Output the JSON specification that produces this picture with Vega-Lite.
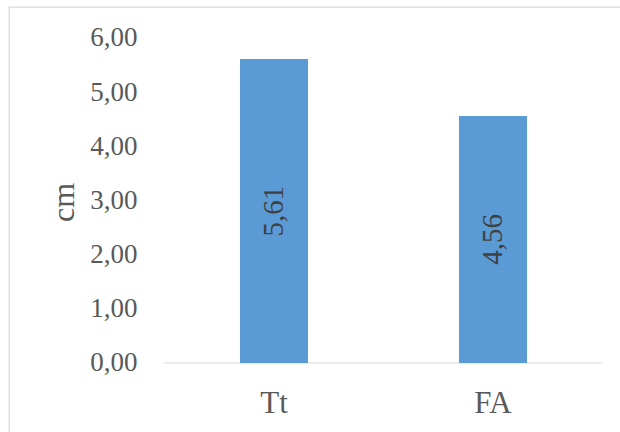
{
  "$schema": "https://vega.github.io/schema/vega-lite/v6.json",
  "usermeta": {"embedOptions": {"actions": false}},
  "width": 640,
  "height": 435,
  "autosize": {"type": "none"},
  "padding": {"left": 9, "top": 7, "right": -29, "bottom": -10},
  "background": "white",
  "config": {
    "view": {"stroke": "#d9d9d9", "strokeWidth": 1.3},
    "font": "Liberation Serif",
    "locale": {"number": {"decimal": ",", "thousands": ".", "grouping": [3], "currency": ["", " €"]}}
  },
  "data": {"values": [
    {"grupo": "Tt", "cm": 5.61},
    {"grupo": "FA", "cm": 4.56}
  ]},
  "encoding": {
    "x": {
      "field": "grupo",
      "type": "nominal",
      "sort": null,
      "scale": {"paddingInner": 0.6895, "paddingOuter": 0.8059, "align": 0.6544, "round": false},
      "axis": {
        "orient": "bottom",
        "offset": -79,
        "domain": false,
        "ticks": false,
        "tickSize": 0,
        "grid": false,
        "labelPadding": 49,
        "labelBaseline": "alphabetic",
        "labelFontSize": 31,
        "labelColor": "#595959",
        "labelAngle": 0,
        "title": null
      }
    }
  },
  "layer": [
    {
      "mark": {"type": "tick", "orient": "horizontal", "size": 219, "thickness": 1.3, "color": "#d9d9d9"},
      "encoding": {"y": {"datum": 0, "type": "quantitative"}}
    },
    {
      "mark": {"type": "bar", "color": "#5B9BD5"},
      "encoding": {
        "y": {
          "field": "cm",
          "type": "quantitative",
          "scale": {"domain": [-1.4585, 6.5723], "nice": false, "zero": false},
          "axis": {
            "values": [0, 1, 2, 3, 4, 5, 6],
            "format": ".2f",
            "offset": -128,
            "domain": false,
            "ticks": false,
            "tickSize": 0,
            "grid": false,
            "labelPadding": 0,
            "labelFontSize": 27,
            "labelColor": "#595959",
            "title": "cm",
            "titleFontSize": 32,
            "titleFontWeight": "normal",
            "titleColor": "#595959",
            "titleAngle": 270,
            "titleBaseline": "alphabetic",
            "titleAlign": "center",
            "titleX": -64,
            "titleY": 195
          }
        },
        "y2": {"datum": 0}
      }
    },
    {
      "transform": [{"calculate": "datum.cm / 2", "as": "mitad"}],
      "mark": {"type": "text", "angle": 270, "align": "center", "baseline": "middle", "fontSize": 29, "color": "#404040"},
      "encoding": {
        "y": {"field": "mitad", "type": "quantitative"},
        "text": {"field": "cm", "type": "quantitative", "format": ".2f"}
      }
    }
  ]
}
